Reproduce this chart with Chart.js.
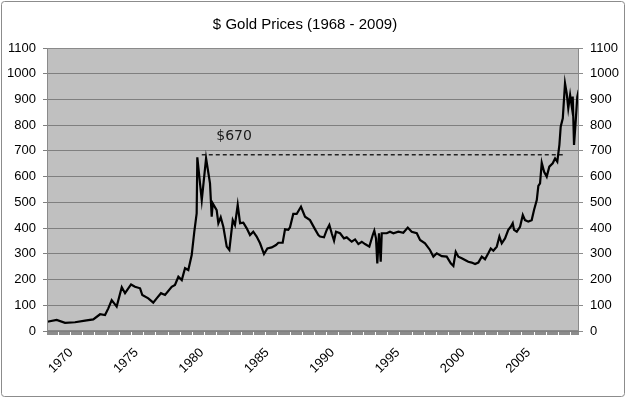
<!DOCTYPE html>
<html>
<head>
<meta charset="utf-8">
<script src="https://cdn.jsdelivr.net/npm/chart.js@4.4.0/dist/chart.umd.min.js"></script>
<style>
  html, body { margin: 0; padding: 0; background: #fff; }
  #gold-chart { display: block; }
</style>
</head>
<body>
<canvas id="gold-chart" width="626" height="398"></canvas>
<script>
// --- Data ---
const chartTitle = "$ Gold Prices (1968 - 2009)";

const years = [
  1968.18, 1968.90, 1969.54, 1970.30, 1971.07, 1971.70, 1972.22, 1972.60, 1972.85, 1973.11,
  1973.49, 1973.88, 1974.13, 1974.59, 1974.89, 1975.28, 1975.45, 1975.91, 1976.29, 1976.55,
  1976.88, 1977.19, 1977.70, 1977.95, 1978.21, 1978.47, 1978.72, 1978.97, 1979.23, 1979.43,
  1979.61, 1979.66, 1980.00, 1980.33, 1980.63, 1980.76, 1980.84, 1981.14, 1981.27, 1981.45,
  1981.65, 1981.91, 1982.11, 1982.37, 1982.54, 1982.75, 1982.93, 1983.18, 1983.44, 1983.69,
  1983.94, 1984.20, 1984.46, 1984.76, 1985.02, 1985.35, 1985.68, 1985.86, 1986.19, 1986.37,
  1986.62, 1986.75, 1987.00, 1987.26, 1987.59, 1987.90, 1988.28, 1988.67, 1988.92, 1989.05,
  1989.35, 1989.56, 1989.76, 1989.94, 1990.12, 1990.27, 1990.58, 1990.88, 1991.09, 1991.47,
  1991.73, 1991.98, 1992.24, 1992.49, 1992.82, 1993.08, 1993.20, 1993.33, 1993.43, 1993.56,
  1993.69, 1993.77, 1994.15, 1994.40, 1994.66, 1995.04, 1995.42, 1995.76, 1996.06, 1996.45,
  1996.70, 1997.08, 1997.46, 1997.72, 1997.98, 1998.36, 1998.74, 1999.05, 1999.25, 1999.43,
  1999.63, 1999.89, 2000.14, 2000.39, 2000.65, 2000.91, 2001.16, 2001.42, 2001.67, 2001.92,
  2002.11, 2002.31, 2002.57, 2002.77, 2002.95, 2003.20, 2003.45, 2003.64, 2003.79, 2003.89,
  2004.10, 2004.35, 2004.56, 2004.73, 2004.98, 2005.24, 2005.42, 2005.63, 2005.75, 2005.88,
  2006.01, 2006.19, 2006.39, 2006.59, 2006.85, 2007.03, 2007.20, 2007.36, 2007.46, 2007.62,
  2007.79, 2007.92, 2008.04, 2008.18, 2008.31, 2008.38, 2008.48, 2008.63, 2008.73, 2008.84,
];

const prices = [
  36, 43, 32, 34, 40, 45, 65, 62, 88, 120,
  95, 170, 147, 181, 172, 166, 140, 127, 110, 127,
  147, 140, 172, 179, 211, 198, 244, 237, 295, 386,
  457, 675, 509, 671, 574, 444, 496, 470, 419, 442,
  405, 328, 315, 431, 412, 490, 419, 421, 399, 373,
  386, 367, 341, 299, 321, 325, 334, 343, 343, 395,
  393, 403, 455, 455, 483, 444, 431, 395, 373, 367,
  364, 393, 412, 380, 351, 386, 380, 360, 364, 347,
  356, 338, 347, 338, 328, 373, 390, 360, 263, 380,
  269, 380, 380, 386, 380, 386, 382, 402, 386, 380,
  354, 341, 315, 289, 302, 291, 289, 263, 253, 308,
  289, 283, 276, 269, 266, 260, 266, 289, 279, 302,
  321, 312, 328, 367, 341, 360, 393, 405, 419, 393,
  386, 405, 451, 431, 425, 431, 470, 509, 564, 574,
  654, 619, 600, 639, 652, 671, 658, 723, 794, 827,
  963, 924, 866, 917, 872, 911, 723, 833, 911, 937,
];

// dashed "old high" line and its label
const refYears = [1980.0, 2007.62];
const refPrice = 685;
const refLabel = "$670";
const refLabelYear = 1982.47;
const refLabelPrice = 758;

const yearLabels = [1970, 1975, 1980, 1985, 1990, 1995, 2000, 2005];
const xMin = 1968.16;
const xMax = 2008.86;
const yMin = 0;
const yMax = 1100;
const yStep = 100;

// --- Drawing helpers ---
const font = "'Liberation Sans', Arial, sans-serif";

const frame = {
  id: "frame",
  beforeDraw(chart) {
    const { ctx, chartArea: a } = chart;
    ctx.save();
    ctx.fillStyle = "#ffffff";
    ctx.fillRect(0, 0, chart.width, chart.height);
    ctx.fillStyle = "#c0c0c0";
    ctx.fillRect(a.left, a.top, a.right - a.left, a.bottom - a.top);
    ctx.restore();
  },
  afterDraw(chart) {
    const { ctx, chartArea: a, scales } = chart;
    ctx.save();
    // plot border
    ctx.strokeStyle = "#8a8a8a";
    ctx.lineWidth = 1;
    ctx.strokeRect(a.left + 0.5, a.top + 0.5, a.right - a.left - 1, a.bottom - a.top - 1);
    // outer border
    ctx.strokeStyle = "#8c8c8c";
    ctx.beginPath();
    ctx.roundRect(1.5, 1.5, chart.width - 3, chart.height - 3, 3);
    ctx.stroke();
    // title
    ctx.fillStyle = "#000";
    ctx.font = "15px " + font;
    ctx.textAlign = "center";
    ctx.textBaseline = "middle";
    ctx.fillText(chartTitle, 305, 25);
    // $670 label
    ctx.font = "14px 'DejaVu Sans', sans-serif";
    ctx.fillStyle = "#1a1a1a";
    ctx.fillText(refLabel, scales.x.getPixelForValue(refLabelYear), scales.y.getPixelForValue(refLabelPrice));
    ctx.restore();
  },
};

const yAxis = (position, grid) => ({
  type: "linear",
  position,
  min: yMin,
  max: yMax,
  ticks: {
    stepSize: yStep,
    padding: 7,
    color: "#000",
    font: { size: 13, family: font },
    callback: (v) => String(v),
  },
  grid,
  border: { display: false },
  afterFit: (scale) => { scale.width = 47; },
});

new Chart(document.getElementById("gold-chart"), {
  type: "line",
  data: {
    datasets: [
      {
        label: "Gold",
        data: years.map((x, i) => ({ x, y: prices[i] })),
        borderColor: "#000",
        borderWidth: 2.2,
        pointRadius: 0,
        tension: 0,
        fill: false,
      },
      {
        label: "$670",
        data: refYears.map((x) => ({ x, y: refPrice })),
        borderColor: "#222",
        borderWidth: 1.5,
        borderDash: [4, 3],
        pointRadius: 0,
        fill: false,
      },
    ],
  },
  options: {
    responsive: false,
    animation: false,
    layout: { padding: { top: 48, left: 0, right: 0, bottom: 0 } },
    plugins: { legend: { display: false }, tooltip: { enabled: false } },
    scales: {
      x: {
        type: "linear",
        min: xMin,
        max: xMax,
        afterBuildTicks: (scale) => {
          const ticks = [];
          for (let m = Math.ceil(xMin * 12); m <= Math.floor(xMax * 12); m++) ticks.push({ value: m / 12 });
          scale.ticks = ticks;
        },
        ticks: {
          autoSkip: false,
          minRotation: 45,
          maxRotation: 45,
          padding: 10,
          color: "#000",
          font: { size: 13, family: font },
          callback: (v) => {
            const yr = Math.round(v);
            return Math.abs(v - yr) < 1e-6 && yearLabels.includes(yr) ? String(yr) : "";
          },
        },
        grid: { drawOnChartArea: false, tickLength: 4, color: "#8c8c8c", lineWidth: 1 },
        border: { display: false },
        afterFit: (scale) => { scale.height = 67; },
      },
      y: yAxis("left", { color: "#7f7f7f", lineWidth: 1, tickLength: 4 }),
      y2: yAxis("right", { drawOnChartArea: false, color: "#8c8c8c", lineWidth: 1, tickLength: 4 }),
    },
  },
  plugins: [frame],
});
</script>
</body>
</html>
